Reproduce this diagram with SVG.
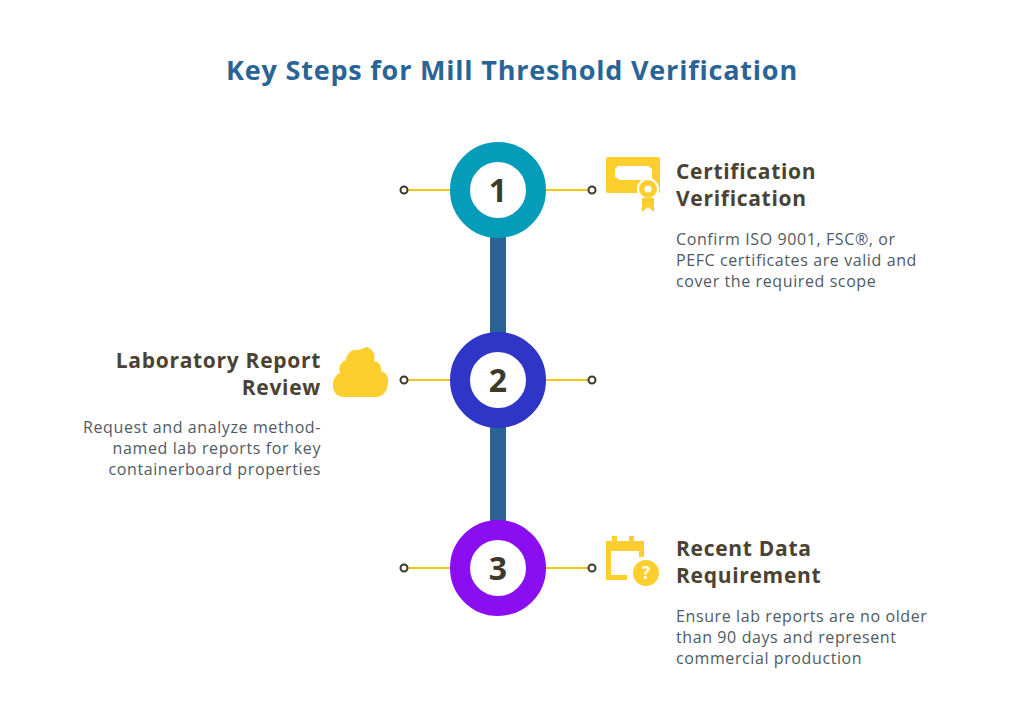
<svg xmlns="http://www.w3.org/2000/svg" width="1024" height="728" viewBox="0 0 1024 728">
<style>
.title{font-family:"Open Sans","Liberation Sans",sans-serif;font-weight:700;font-size:27px;letter-spacing:0.8px;fill:#2a6496}
.head{font-family:"Open Sans","Liberation Sans",sans-serif;font-weight:700;font-size:21px;letter-spacing:0.7px;fill:#4a4232}
.body{font-family:"Open Sans","Liberation Sans",sans-serif;font-size:16px;letter-spacing:0.6px;fill:#4f5a63}
.num{font-family:"Open Sans","Liberation Sans",sans-serif;font-weight:700;font-size:32px;fill:#3d3a2c}
.ln{stroke:#f5c518;stroke-width:2}
.dot{fill:#fff;stroke:#3d3a2c;stroke-width:2}
.ic{fill:#fccf2e}
</style>
<rect width="1024" height="728" fill="#fff"/>
<text class="title" x="512" y="80" text-anchor="middle">Key Steps for Mill Threshold Verification</text>
<g id="connectors">
<rect x="490" y="230" width="16" height="110" fill="#2a6496"/>
<rect x="490" y="420" width="16" height="110" fill="#2a6496"/>
<line class="ln" x1="408" y1="190" x2="452" y2="190"/><line class="ln" x1="544" y1="190" x2="588" y2="190"/>
<line class="ln" x1="408" y1="380" x2="452" y2="380"/><line class="ln" x1="544" y1="380" x2="588" y2="380"/>
<line class="ln" x1="408" y1="568" x2="452" y2="568"/><line class="ln" x1="544" y1="568" x2="588" y2="568"/>
<circle class="dot" cx="404" cy="190" r="3.5"/><circle class="dot" cx="592" cy="190" r="3.5"/>
<circle class="dot" cx="404" cy="380" r="3.5"/><circle class="dot" cx="592" cy="380" r="3.5"/>
<circle class="dot" cx="404" cy="568" r="3.5"/><circle class="dot" cx="592" cy="568" r="3.5"/>
</g>
<g id="step1">
<circle cx="498" cy="190" r="38" fill="#fff" stroke="#049cb8" stroke-width="20"/>
<text class="num" x="498" y="202" text-anchor="middle">1</text>
<g class="ic">
<rect x="606" y="157" width="54" height="36" rx="2"/>
<path d="M618 166h30l4 3v11h-32l-5-3v-8z" fill="#fff"/>
<circle cx="648" cy="189" r="10" stroke="#fff" stroke-width="2"/>
<circle cx="648" cy="189" r="3.5" fill="#fff"/>
<path d="M642 198v14l6-5 6 5v-14z"/>
</g>
<text class="head" x="676" y="179">Certification</text>
<text class="head" x="676" y="206">Verification</text>
<text class="body" x="676" y="245">Confirm ISO 9001, FSC®, or</text>
<text class="body" x="676" y="266">PEFC certificates are valid and</text>
<text class="body" x="676" y="287">cover the required scope</text>
</g>
<g id="step2">
<circle cx="498" cy="380" r="38" fill="#fff" stroke="#2f35c6" stroke-width="20"/>
<text class="num" x="498" y="392" text-anchor="middle">2</text>
<path class="ic" d="M367 347c6 2 9 8 7 14c5 1 8 5 7 10c6 2 8 7 7 12c0 7-5 14-12 14h-32c-8 0-12-7-11-13c0-5 3-9 7-11c-2-6 1-11 6-13c1-7 6-11 12-10c5-1 8-3 9-3z"/>
<text class="head" x="321" y="368" text-anchor="end">Laboratory Report</text>
<text class="head" x="321" y="395" text-anchor="end">Review</text>
<text class="body" x="321" y="433" text-anchor="end">Request and analyze method-</text>
<text class="body" x="321" y="454" text-anchor="end">named lab reports for key</text>
<text class="body" x="321" y="475" text-anchor="end">containerboard properties</text>
</g>
<g id="step3">
<circle cx="498" cy="568" r="38" fill="#fff" stroke="#8a0ef0" stroke-width="20"/>
<text class="num" x="498" y="580" text-anchor="middle">3</text>
<g class="ic">
<path d="M606 541h6v-5h5v5h12v-5h5v5h10v16h-5v-6h-28v24h16v5h-21z"/>
<circle cx="646" cy="573" r="13"/>
</g>
<text x="646" y="579" text-anchor="middle" font-family="Open Sans,Liberation Sans,sans-serif" font-weight="700" font-size="17" fill="#fff">?</text>
<text class="head" x="676" y="556">Recent Data</text>
<text class="head" x="676" y="583">Requirement</text>
<text class="body" x="676" y="622">Ensure lab reports are no older</text>
<text class="body" x="676" y="643">than 90 days and represent</text>
<text class="body" x="676" y="664">commercial production</text>
</g>
</svg>
